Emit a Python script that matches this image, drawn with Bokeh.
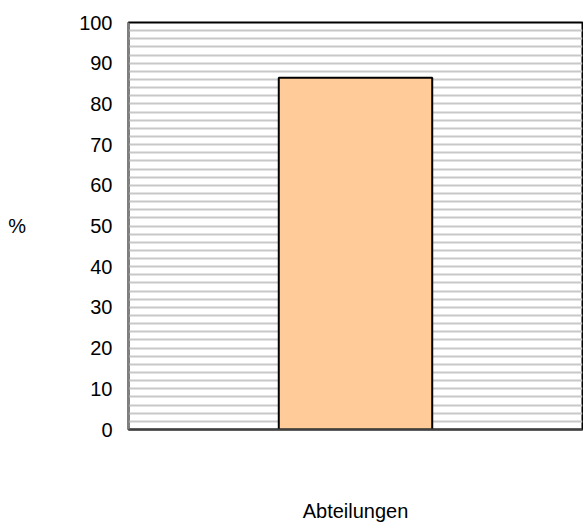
from bokeh.plotting import figure
from bokeh.models import Range1d, FactorRange, SingleIntervalTicker, ColumnDataSource
from bokeh.embed import file_html
from bokeh.resources import INLINE

categories = ["Abteilungen"]
values = [86.4]
y_ticks = [0, 10, 20, 30, 40, 50, 60, 70, 80, 90, 100]

FONT = "Liberation Sans"

src = ColumnDataSource(dict(cat=categories, val=values))

p = figure(width=583, height=524, output_backend="svg", toolbar_location=None,
           x_range=FactorRange(factors=categories, range_padding=0),
           y_range=Range1d(0, 100),
           min_border_left=128, min_border_right=1, min_border_top=22, min_border_bottom=94)

p.vbar(x="cat", top="val", width=0.338, source=src, fill_color="#FFCC99",
       line_color="black", line_width=2)

p.xgrid.grid_line_color = None
p.ygrid.ticker = SingleIntervalTicker(interval=2)
p.ygrid.grid_line_color = "#c8c8c8"
p.ygrid.grid_line_width = 2

p.yaxis.ticker = y_ticks
p.yaxis.major_tick_out = 0
p.yaxis.major_tick_in = 0
p.yaxis.minor_tick_out = 0
p.yaxis.minor_tick_in = 0
p.yaxis.major_label_standoff = 16
p.yaxis.major_label_text_font = FONT
p.yaxis.major_label_text_font_size = "20px"
p.yaxis.major_label_text_color = "black"
p.yaxis.axis_line_color = "#808080"
p.yaxis.axis_line_width = 2
p.yaxis.axis_label = "%"
p.yaxis.axis_label_orientation = "horizontal"
p.yaxis.axis_label_standoff = 50
p.yaxis.axis_label_text_font = FONT
p.yaxis.axis_label_text_font_size = "20px"
p.yaxis.axis_label_text_font_style = "normal"
p.yaxis.axis_label_text_color = "black"

# the category name is drawn as the x axis tick label, far below the axis
p.xaxis.major_label_text_font = FONT
p.xaxis.major_label_text_font_size = "20px"
p.xaxis.major_label_text_color = "black"
p.xaxis.major_label_standoff = 70
p.xaxis.major_tick_out = 0
p.xaxis.major_tick_in = 0
p.xaxis.axis_line_color = "#404040"
p.xaxis.axis_line_width = 2

p.outline_line_color = "black"
p.outline_line_width = 2

open("out.html", "w").write(file_html(p, INLINE))
